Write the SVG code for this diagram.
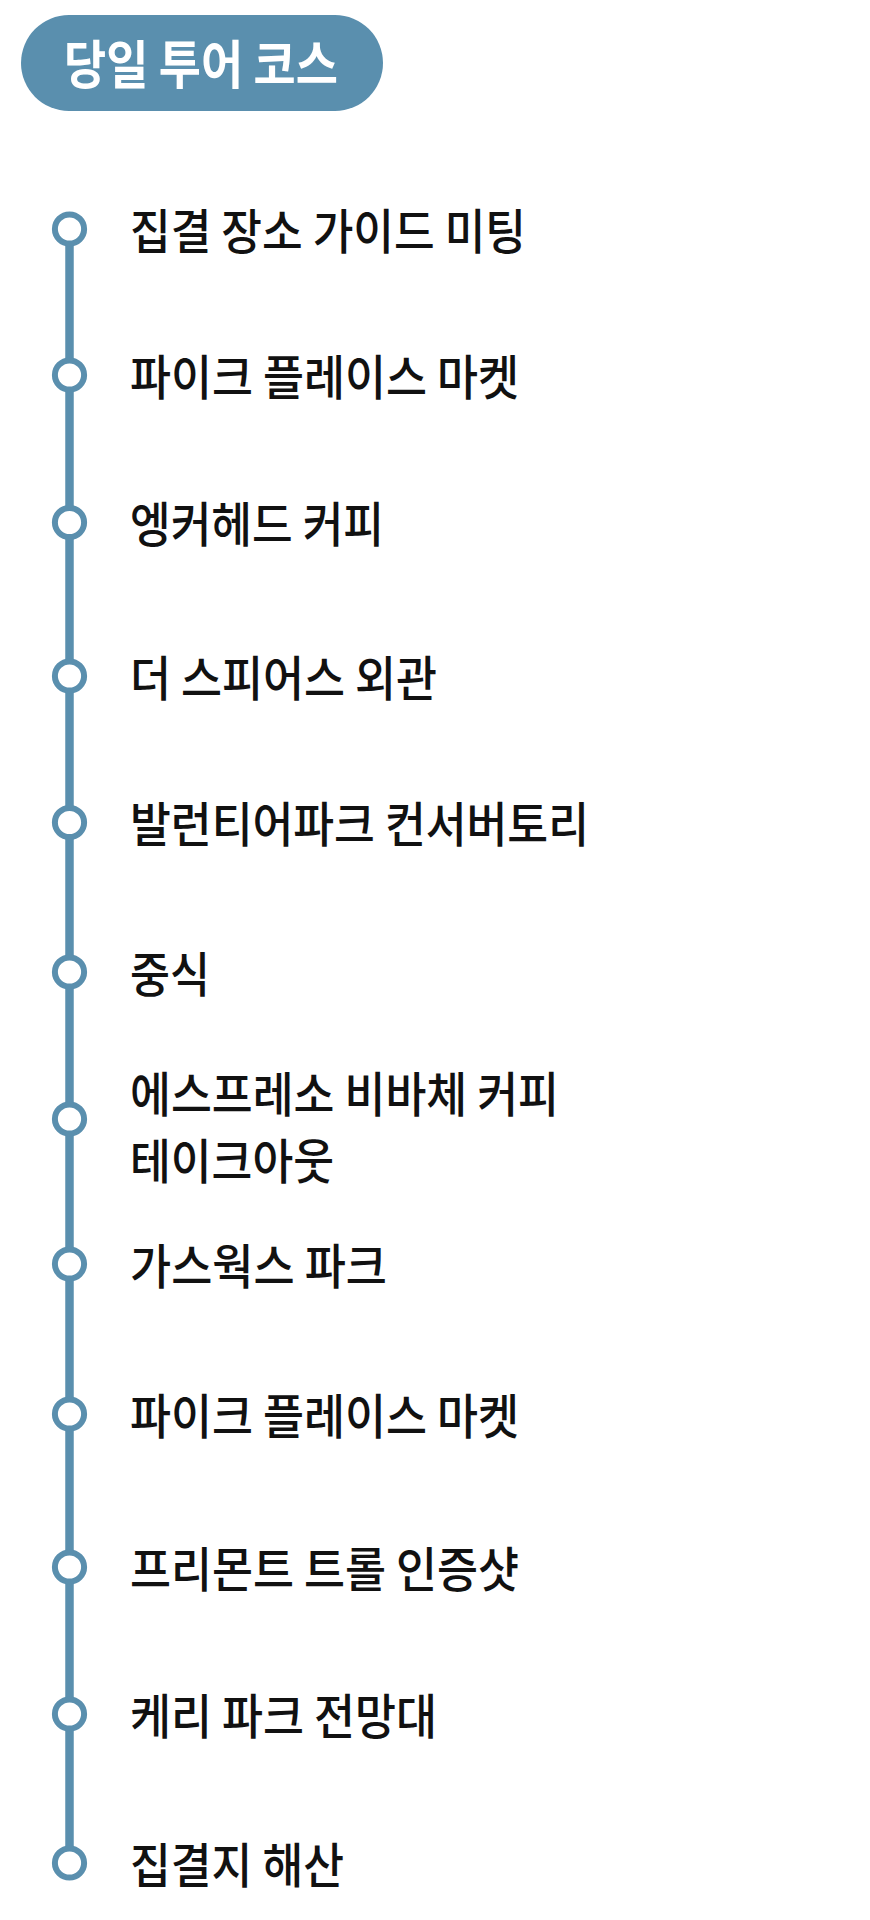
<svg xmlns="http://www.w3.org/2000/svg" width="870" height="1920" viewBox="0 0 870 1920">
<style>
.bg{fill:#ffffff}
.pill{fill:#5a8fae}
.title{font-family:"Noto Sans CJK KR","Noto Sans",sans-serif;font-size:52px;font-weight:700;fill:#ffffff}
.lbl{font-family:"Noto Sans CJK KR","Noto Sans",sans-serif;font-size:48px;font-weight:500;fill:#111111}
.dot{fill:#ffffff;stroke:#5a8fae;stroke-width:6}
.line{stroke:#5a8fae;stroke-width:8.5;fill:none}
</style>
<rect class="bg" x="0" y="0" width="870" height="1920"/>
<g id="title">
<rect class="pill" x="21" y="15" width="362" height="96" rx="48" ry="48"/>
<text class="title" x="64" y="84" textLength="274" lengthAdjust="spacingAndGlyphs">당일 투어 코스</text>
</g>
<g id="connectors">
<line class="line" x1="69.5" y1="229" x2="69.5" y2="1863"/>
</g>
<g id="n1"><circle class="dot" cx="69.5" cy="229" r="14.6"/><text class="lbl" x="130" y="249" textLength="396" lengthAdjust="spacingAndGlyphs">집결 장소 가이드 미팅</text></g>
<g id="n2"><circle class="dot" cx="69.5" cy="375" r="14.6"/><text class="lbl" x="130" y="394.5" textLength="389" lengthAdjust="spacingAndGlyphs">파이크 플레이스 마켓</text></g>
<g id="n3"><circle class="dot" cx="69.5" cy="522.5" r="14.6"/><text class="lbl" x="130" y="542" textLength="254" lengthAdjust="spacingAndGlyphs">엥커헤드 커피</text></g>
<g id="n4"><circle class="dot" cx="69.5" cy="676" r="14.6"/><text class="lbl" x="130" y="695.5" textLength="307" lengthAdjust="spacingAndGlyphs">더 스피어스 외관</text></g>
<g id="n5"><circle class="dot" cx="69.5" cy="822.5" r="14.6"/><text class="lbl" x="130" y="842" textLength="459" lengthAdjust="spacingAndGlyphs">발런티어파크 컨서버토리</text></g>
<g id="n6"><circle class="dot" cx="69.5" cy="972" r="14.6"/><text class="lbl" x="130" y="991.5" textLength="80" lengthAdjust="spacingAndGlyphs">중식</text></g>
<g id="n7"><circle class="dot" cx="69.5" cy="1119" r="14.6"/><text class="lbl" x="130" y="1112" textLength="429" lengthAdjust="spacingAndGlyphs">에스프레소 비바체 커피</text><text class="lbl" x="130" y="1179" textLength="204" lengthAdjust="spacingAndGlyphs">테이크아웃</text></g>
<g id="n8"><circle class="dot" cx="69.5" cy="1264" r="14.6"/><text class="lbl" x="130" y="1283.5" textLength="257" lengthAdjust="spacingAndGlyphs">가스웍스 파크</text></g>
<g id="n9"><circle class="dot" cx="69.5" cy="1414" r="14.6"/><text class="lbl" x="130" y="1433.5" textLength="389" lengthAdjust="spacingAndGlyphs">파이크 플레이스 마켓</text></g>
<g id="n10"><circle class="dot" cx="69.5" cy="1567" r="14.6"/><text class="lbl" x="130" y="1586.5" textLength="389" lengthAdjust="spacingAndGlyphs">프리몬트 트롤 인증샷</text></g>
<g id="n11"><circle class="dot" cx="69.5" cy="1714" r="14.6"/><text class="lbl" x="130" y="1733.5" textLength="307" lengthAdjust="spacingAndGlyphs">케리 파크 전망대</text></g>
<g id="n12"><circle class="dot" cx="69.5" cy="1863" r="14.6"/><text class="lbl" x="130" y="1882.5" textLength="214" lengthAdjust="spacingAndGlyphs">집결지 해산</text></g>
</svg>
